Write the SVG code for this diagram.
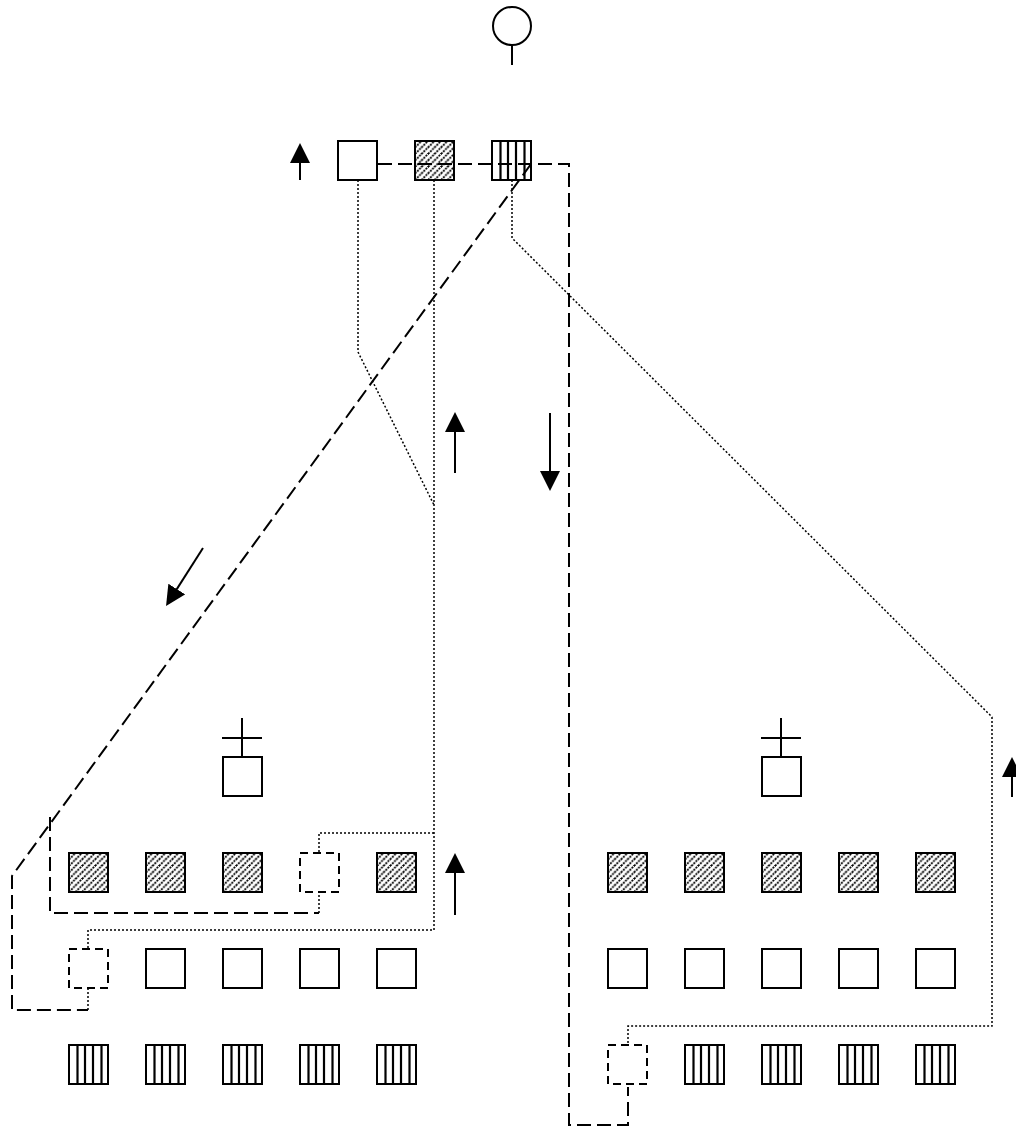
<svg xmlns="http://www.w3.org/2000/svg" xmlns:xlink="http://www.w3.org/1999/xlink" width="1016" height="1127" viewBox="0 0 1016 1127">
<style>
.box{fill:#fff;stroke:#000;stroke-width:2}
.dbox{fill:#fff;stroke:#000;stroke-width:2;stroke-dasharray:8,5}
.dash{fill:none;stroke:#000;stroke-width:2;stroke-dasharray:14,6}
.dot{fill:none;stroke:#000;stroke-width:1.5;stroke-dasharray:2,2}
.arr{fill:none;stroke:#000;stroke-width:2;marker-end:url(#head)}
.ln{fill:none;stroke:#000;stroke-width:2}
</style>
<defs>
<marker id="head" markerUnits="userSpaceOnUse" viewBox="0 0 20 20" refX="16" refY="10" markerWidth="20" markerHeight="20" orient="auto"><path d="M0 0L20 10L0 20Z" fill="#000"/></marker>
<pattern id="hatch" patternUnits="userSpaceOnUse" width="6.5" height="6.5"><path d="M0 6.5L6.5 0M-1 1L1 -1M5.5 7.5L7.5 5.5" stroke="#000" stroke-width="1.8" stroke-dasharray="2,1"/></pattern>
<g id="plain"><rect class="box" x="0" y="0" width="39" height="39"/></g>
<g id="hatched"><rect x="0" y="0" width="39" height="39" fill="#fff"/><rect x="0" y="0" width="39" height="39" fill="url(#hatch)" stroke="#000" stroke-width="2"/></g>
<g id="striped"><rect class="box" x="0" y="0" width="39" height="39"/><path d="M8.5 0V39M16 0V39M24 0V39M32.5 0V39" stroke="#000" stroke-width="2.2"/></g>
<g id="dashed"><rect class="dbox" x="0" y="0" width="39" height="39"/></g>
</defs>
<rect width="1016" height="1127" fill="#fff"/>

<g id="root"><circle cx="512" cy="26" r="19" fill="#fff" stroke="#000" stroke-width="2"/><path class="ln" d="M512 45V65"/></g>

<g id="top-plain"><use xlink:href="#plain" x="338" y="141"/></g>
<g id="top-hatched"><use xlink:href="#hatched" x="415" y="141"/></g>
<g id="top-striped"><use xlink:href="#striped" x="492" y="141"/></g>

<g id="left-head"><path class="ln" d="M242 718V757M222 738H262"/><use xlink:href="#plain" x="223" y="757"/></g>
<g id="right-head"><path class="ln" d="M781 718V757M761 738H801"/><use xlink:href="#plain" x="762" y="757"/></g>

<g id="L-r1c1"><use xlink:href="#hatched" x="69" y="853"/></g>
<g id="L-r1c2"><use xlink:href="#hatched" x="146" y="853"/></g>
<g id="L-r1c3"><use xlink:href="#hatched" x="223" y="853"/></g>
<g id="L-r1c4"><use xlink:href="#dashed" x="300" y="853"/></g>
<g id="L-r1c5"><use xlink:href="#hatched" x="377" y="853"/></g>
<g id="L-r2c1"><use xlink:href="#dashed" x="69" y="949"/></g>
<g id="L-r2c2"><use xlink:href="#plain" x="146" y="949"/></g>
<g id="L-r2c3"><use xlink:href="#plain" x="223" y="949"/></g>
<g id="L-r2c4"><use xlink:href="#plain" x="300" y="949"/></g>
<g id="L-r2c5"><use xlink:href="#plain" x="377" y="949"/></g>
<g id="L-r3c1"><use xlink:href="#striped" x="69" y="1045"/></g>
<g id="L-r3c2"><use xlink:href="#striped" x="146" y="1045"/></g>
<g id="L-r3c3"><use xlink:href="#striped" x="223" y="1045"/></g>
<g id="L-r3c4"><use xlink:href="#striped" x="300" y="1045"/></g>
<g id="L-r3c5"><use xlink:href="#striped" x="377" y="1045"/></g>

<g id="R-r1c1"><use xlink:href="#hatched" x="608" y="853"/></g>
<g id="R-r1c2"><use xlink:href="#hatched" x="685" y="853"/></g>
<g id="R-r1c3"><use xlink:href="#hatched" x="762" y="853"/></g>
<g id="R-r1c4"><use xlink:href="#hatched" x="839" y="853"/></g>
<g id="R-r1c5"><use xlink:href="#hatched" x="916" y="853"/></g>
<g id="R-r2c1"><use xlink:href="#plain" x="608" y="949"/></g>
<g id="R-r2c2"><use xlink:href="#plain" x="685" y="949"/></g>
<g id="R-r2c3"><use xlink:href="#plain" x="762" y="949"/></g>
<g id="R-r2c4"><use xlink:href="#plain" x="839" y="949"/></g>
<g id="R-r2c5"><use xlink:href="#plain" x="916" y="949"/></g>
<g id="R-r3c1"><use xlink:href="#dashed" x="608" y="1045"/></g>
<g id="R-r3c2"><use xlink:href="#striped" x="685" y="1045"/></g>
<g id="R-r3c3"><use xlink:href="#striped" x="762" y="1045"/></g>
<g id="R-r3c4"><use xlink:href="#striped" x="839" y="1045"/></g>
<g id="R-r3c5"><use xlink:href="#striped" x="916" y="1045"/></g>

<g id="connectors">
<path class="dash" d="M378 164H569V1125H628V1087"/>
<path class="dash" d="M531 164L12 876V1010H88"/>
<path class="dot" d="M88 1010V988"/>
<path class="dash" d="M50 817V913H319"/>
<path class="dot" d="M319 913V892"/>
<path class="dot" d="M358 180V352L434 505"/>
<path class="dot" d="M434 180V930H88V949"/>
<path class="dot" d="M434 833H319V853"/>
<path class="dot" d="M512 180V238L992 717V1026H628V1045"/>
</g>

<g id="arrows">
<path class="arr" d="M300 180V147"/>
<path class="arr" d="M455 473V416"/>
<path class="arr" d="M550 413V487"/>
<path class="arr" d="M203 548L168.2 602.6"/>
<path class="arr" d="M1012 797V761"/>
<path class="arr" d="M455 915V857"/>
</g>
</svg>
